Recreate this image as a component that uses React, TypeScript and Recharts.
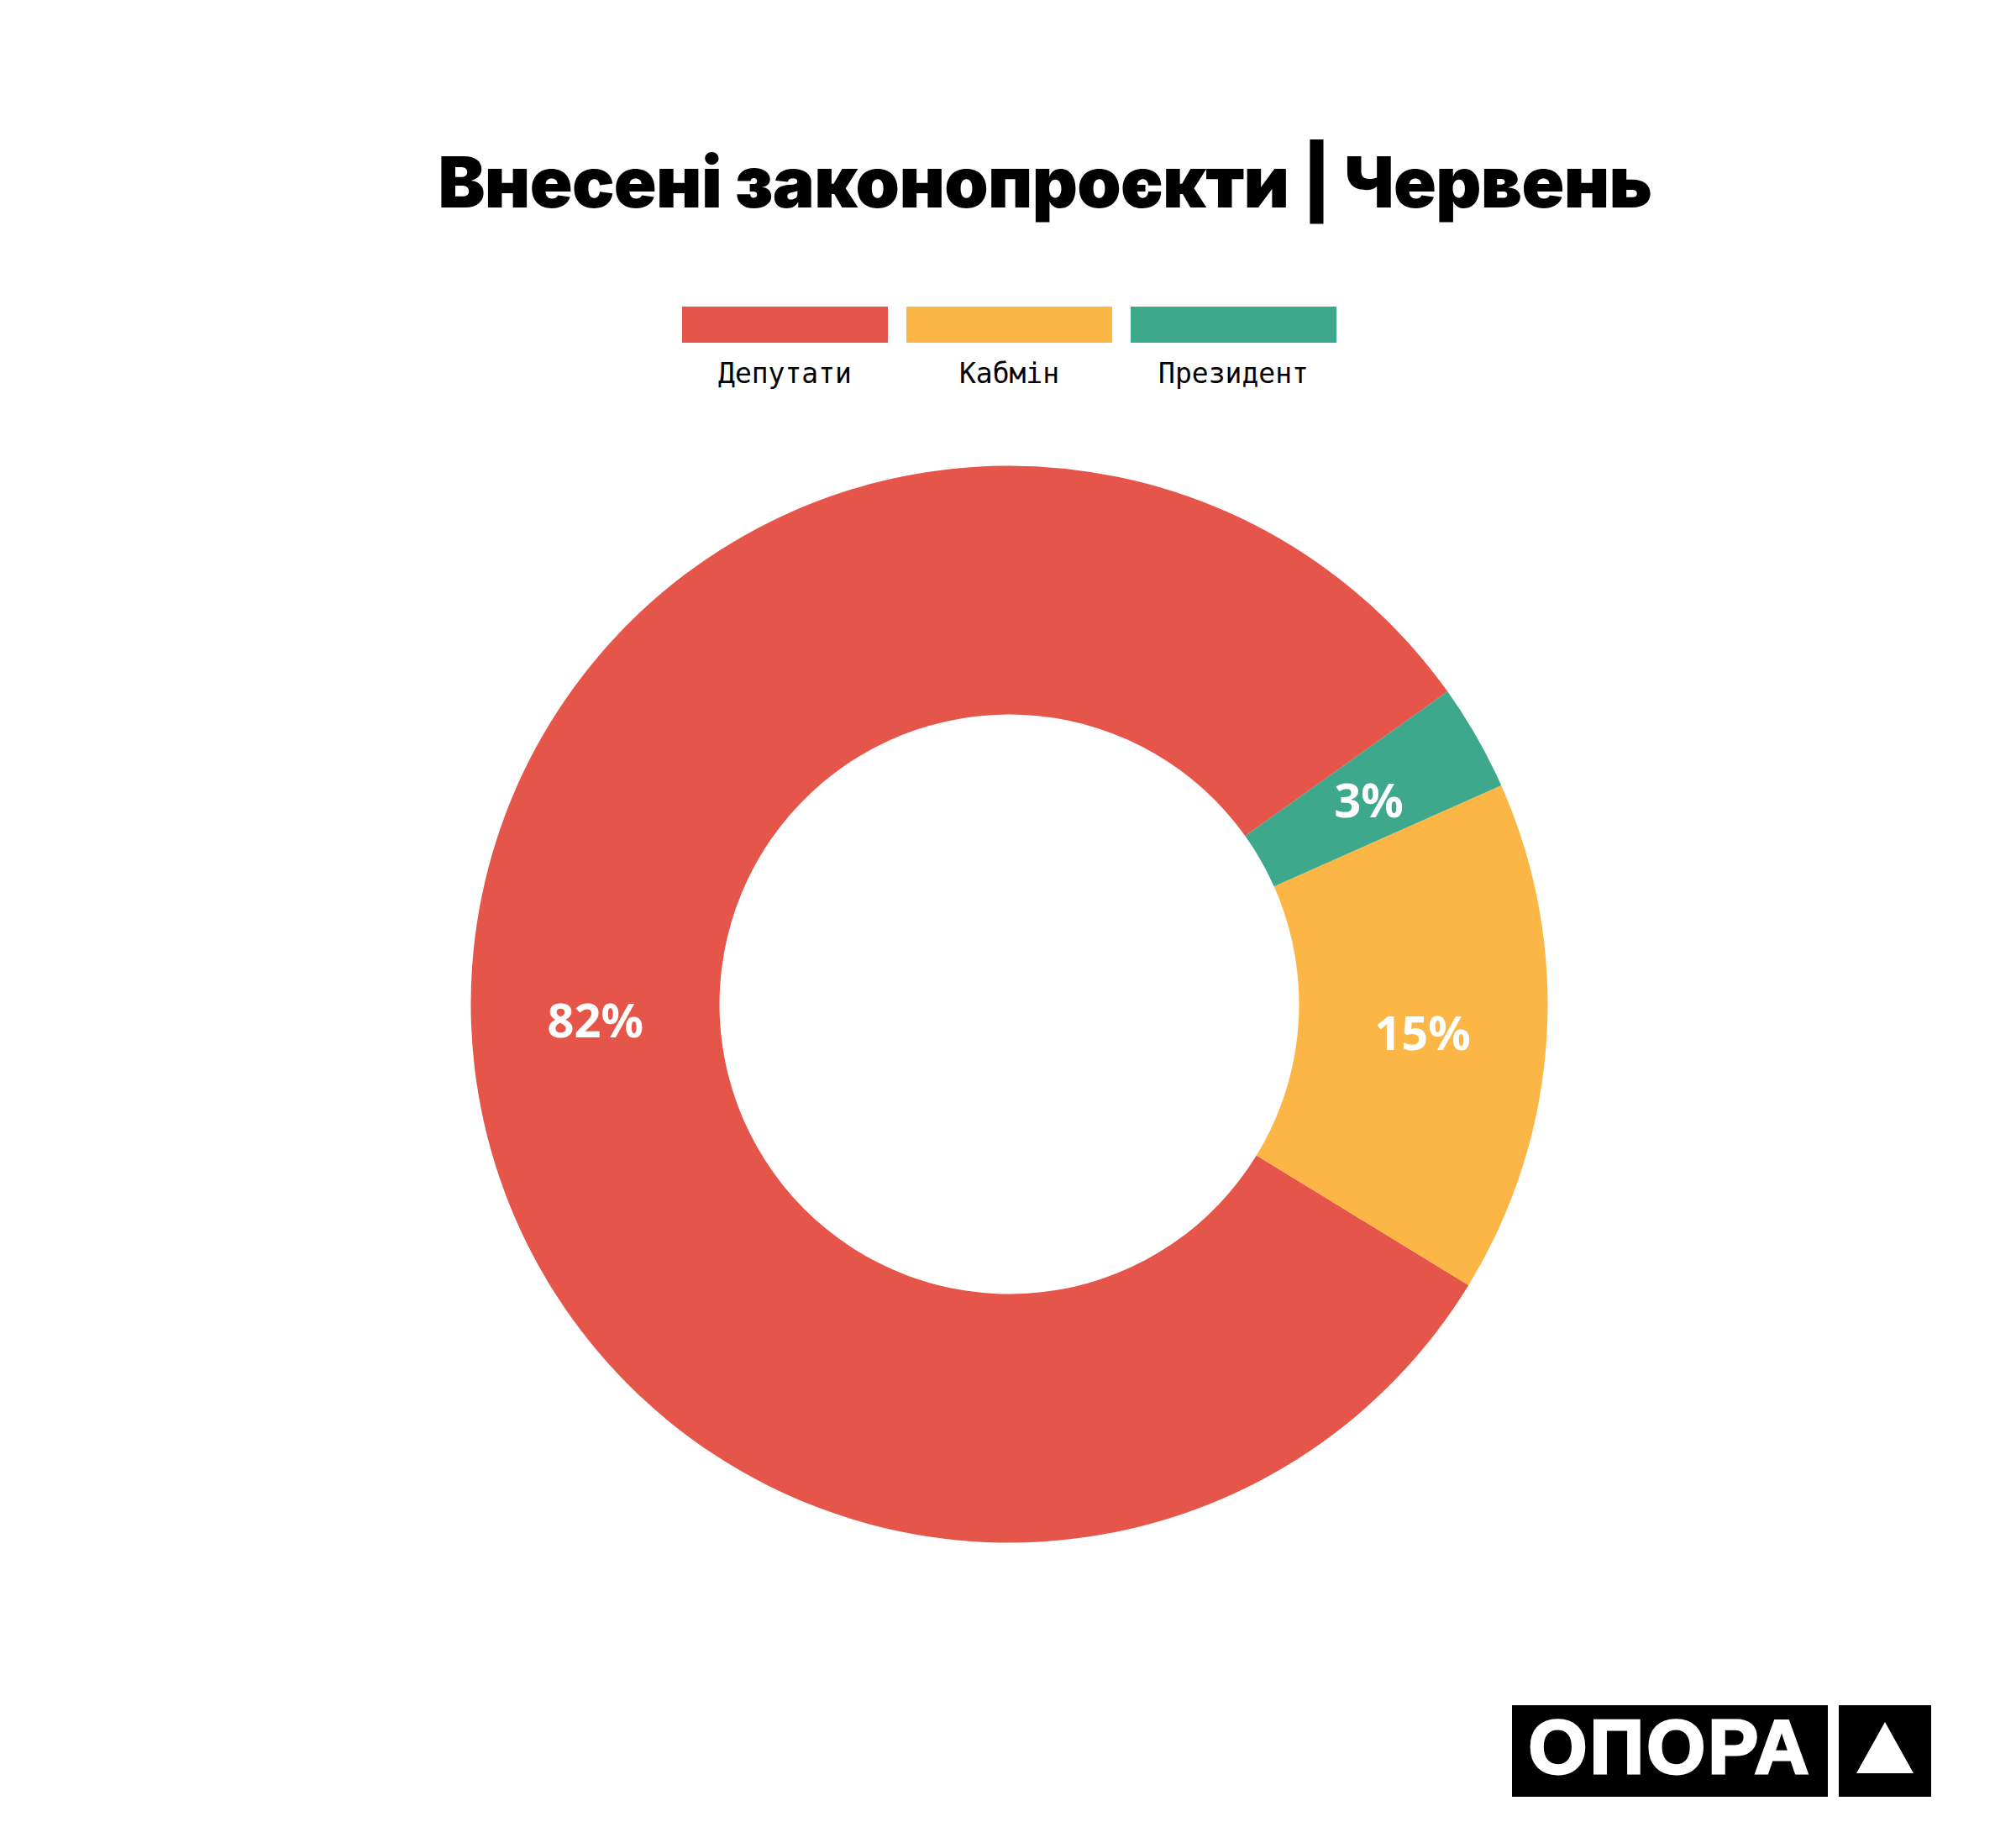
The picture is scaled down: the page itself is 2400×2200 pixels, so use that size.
import { Legend, Pie, PieChart, Cell } from 'recharts';

const CATEGORIES = ['Депутати', 'Кабмін', 'Президент'];
// slice shares as read from the ring, and the percentages printed on it
const SHARES = [81.4, 15.4, 3.2];
const PRINTED = ['82%', '15%', '3%'];
const COLORS = ['#E5554A', '#FCB645', '#3DA88C'];

const data = CATEGORIES.map((name, i) => ({ name, value: SHARES[i], label: PRINTED[i] }));

const RADIAN = Math.PI / 180;

function SliceLabel(props: any) {
  const { cx, cy, midAngle, innerRadius, outerRadius, index } = props;
  const r = (innerRadius + outerRadius) / 2;
  const x = cx + r * Math.cos(-midAngle * RADIAN);
  const y = cy + r * Math.sin(-midAngle * RADIAN);
  return (
    <text x={x} y={y} fill="#fff" textAnchor="middle" dominantBaseline="central"
      fontFamily="'Noto Sans', sans-serif" fontWeight={700} fontSize={56}>
      {data[index].label}
    </text>
  );
}

function LegendBoxes({ payload }: any) {
  const items = payload ?? [];
  return (
    <svg width={800} height={110}>
      {items.map((p: any, i: number) => (
        <g key={p.value}>
          <rect x={i * 267} y={0} width={245} height={43} fill={p.color} />
          <text x={i * 267 + 122.5} y={91} textAnchor="middle" fontFamily="'DejaVu Sans Mono', monospace" fontSize={33} fill="#000">
            {p.value}
          </text>
        </g>
      ))}
    </svg>
  );
}

export default function App() {
  return (
    <div style={{ position: 'absolute', left: 0, top: 0, width: 2400, height: 2200, background: '#fff' }}>
      <PieChart width={2400} height={2200} margin={{ top: 0, right: 0, bottom: 0, left: 0 }}
        style={{ position: 'absolute', left: 0, top: 0 }}>
        <Legend content={<LegendBoxes />} wrapperStyle={{ position: 'absolute', left: 812, top: 365, width: 800, height: 110 }} />
        <Pie data={data} dataKey="value" nameKey="name" cx={1201.5} cy={1195.5} innerRadius={345} outerRadius={641}
          startAngle={35.5} endAngle={395.5} stroke="none" label={SliceLabel} labelLine={false} isAnimationActive={false}>
          {data.map((_, i) => <Cell key={i} fill={COLORS[i]} />)}
        </Pie>
      </PieChart>
      <svg width={2400} height={2200} style={{ position: 'absolute', left: 0, top: 0, pointerEvents: 'none' }}>
        <text x={1244} y={247} textAnchor="middle" fontFamily="Inter, sans-serif" fontWeight={900} fontSize={84}
          letterSpacing={-0.7} fill="#000">
          Внесені законопроєкти | Червень
        </text>
        <rect x={1800} y={2030} width={376} height={109} fill="#000" />
        <text x={1988} y={2111} textAnchor="middle" fontFamily="'Liberation Sans', Arial, sans-serif" fontWeight={700} fontSize={90}
          letterSpacing={3} stroke="#fff" strokeWidth={3} fill="#fff">
          ОПОРА
        </text>
        <rect x={2189} y={2030} width={110} height={109} fill="#000" />
        <polygon points="2244,2050 2210,2111 2278,2111" fill="#fff" />
      </svg>
    </div>
  );
}
